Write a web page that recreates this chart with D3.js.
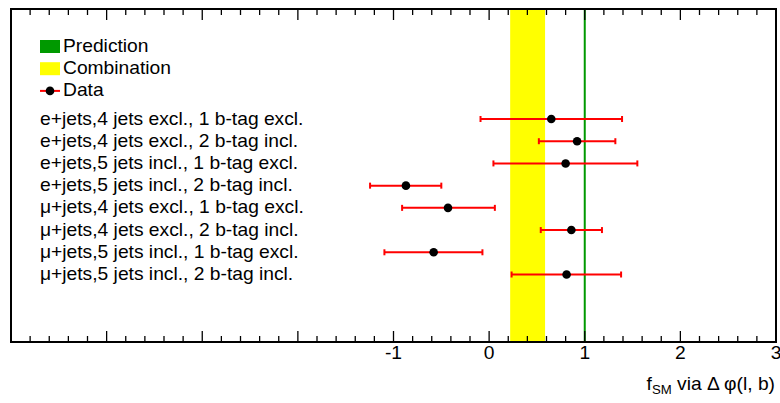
<!DOCTYPE html>
<html><head><meta charset="utf-8">
<script src="https://cdn.jsdelivr.net/npm/d3@7"></script>
<style>
html,body{margin:0;padding:0;background:#fff;}
svg text{font-family:"Liberation Sans",Arial,Helvetica,sans-serif;}
</style></head>
<body>
<svg id="c" width="780" height="403"></svg>
<script>
// ---- data ----
const categories = [
  "e+jets,4 jets excl., 1 b-tag excl.",
  "e+jets,4 jets excl., 2 b-tag incl.",
  "e+jets,5 jets incl., 1 b-tag excl.",
  "e+jets,5 jets incl., 2 b-tag incl.",
  "\u03bc+jets,4 jets excl., 1 b-tag excl.",
  "\u03bc+jets,4 jets excl., 2 b-tag incl.",
  "\u03bc+jets,5 jets incl., 1 b-tag excl.",
  "\u03bc+jets,5 jets incl., 2 b-tag incl."
];
const values   = [0.65, 0.92, 0.80, -0.87, -0.43, 0.86, -0.58, 0.81];
const errLow   = [0.74, 0.40, 0.755, 0.375, 0.48, 0.32, 0.515, 0.575];
const errHigh  = [0.74, 0.40, 0.75, 0.37, 0.49, 0.32, 0.51, 0.57];
const prediction = 1.0;
const combination = [0.22, 0.585];
const legendLabels = ["Prediction", "Combination", "Data"];
const xDomain = [-5, 3];
const tickLabels = [-1, 0, 1, 2, 3];

// ---- layout ----
const L = 11, R = 776, T = 9, B = 342;
const FS = 17.5, SX = 1.1;
const svg = d3.select("#c");
const x = d3.scaleLinear().domain(xDomain).range([L, R]);
const y = d3.scalePoint().domain(categories).range([119, 274.5]);
const ly = d3.scalePoint().domain(legendLabels).range([46.5, 90.9]);

// combination band
svg.append("rect").attr("x", x(combination[0])).attr("y", T)
  .attr("width", x(combination[1]) - x(combination[0])).attr("height", B - T)
  .attr("fill", "#ffff00");
// prediction line
svg.append("line").attr("x1", x(prediction)).attr("x2", x(prediction))
  .attr("y1", T).attr("y2", B).attr("stroke", "#009900").attr("stroke-width", 2);

// axes ticks (inward, bottom and top)
const majors = d3.range(xDomain[0], xDomain[1] + 0.001, 1);
const minors = d3.range(xDomain[0], xDomain[1] + 0.001, 0.2).filter(v => Math.abs(v - Math.round(v)) > 1e-6);
const tg = svg.append("g").attr("stroke", "#000").attr("stroke-width", 1.3);
[[B, -1], [T, 1]].forEach(([yy, dir]) => {
  tg.selectAll(null).data(majors).enter().append("line")
    .attr("x1", d => x(d)).attr("x2", d => x(d)).attr("y1", yy).attr("y2", yy + dir * 11);
  tg.selectAll(null).data(minors).enter().append("line")
    .attr("x1", d => x(d)).attr("x2", d => x(d)).attr("y1", yy).attr("y2", yy + dir * 6);
});

// frame
svg.append("rect").attr("x", L).attr("y", T).attr("width", R - L).attr("height", B - T)
  .attr("fill", "none").attr("stroke", "#000").attr("stroke-width", 2);

// tick labels
svg.selectAll(".tl").data(tickLabels).enter().append("text")
  .attr("transform", d => `translate(${x(d)},359) scale(${SX},1)`)
  .attr("text-anchor", "middle").attr("font-size", FS).attr("fill", "#000")
  .text(d => d);

// x label
const xl = svg.append("text").attr("transform", `translate(775,390) scale(${SX},1)`)
  .attr("text-anchor", "end").attr("font-size", FS).attr("fill", "#000");
xl.append("tspan").text("f");
xl.append("tspan").attr("font-size", 12).attr("dy", 4).text("SM");
xl.append("tspan").attr("dy", -4).text(" via \u0394 \u03c6(l, b)");

// data error bars
const dg = svg.append("g");
dg.selectAll(".eb").data(categories).enter().append("line")
  .attr("x1", (d, i) => x(values[i] - errLow[i])).attr("x2", (d, i) => x(values[i] + errHigh[i]))
  .attr("y1", d => y(d)).attr("y2", d => y(d))
  .attr("stroke", "#ff0000").attr("stroke-width", 2);
dg.selectAll(".cl").data(categories).enter().append("line")
  .attr("x1", (d, i) => x(values[i] - errLow[i])).attr("x2", (d, i) => x(values[i] - errLow[i]))
  .attr("y1", d => y(d) - 3).attr("y2", d => y(d) + 3)
  .attr("stroke", "#ff0000").attr("stroke-width", 2);
dg.selectAll(".cr").data(categories).enter().append("line")
  .attr("x1", (d, i) => x(values[i] + errHigh[i])).attr("x2", (d, i) => x(values[i] + errHigh[i]))
  .attr("y1", d => y(d) - 3).attr("y2", d => y(d) + 3)
  .attr("stroke", "#ff0000").attr("stroke-width", 2);
dg.selectAll(".pt").data(categories).enter().append("circle")
  .attr("cx", (d, i) => x(values[i])).attr("cy", d => y(d)).attr("r", 4.3).attr("fill", "#000");

// category labels
svg.selectAll(".cat").data(categories).enter().append("text")
  .attr("transform", d => `translate(40,${y(d) + 5.5}) scale(${SX},1)`)
  .attr("font-size", FS).attr("fill", "#000").text(d => d);

// legend
const lg = svg.append("g");
lg.append("rect").attr("x", 40).attr("y", ly("Prediction") - 6.5).attr("width", 20).attr("height", 13).attr("fill", "#009900");
lg.append("rect").attr("x", 40).attr("y", ly("Combination") - 6.5).attr("width", 20).attr("height", 13).attr("fill", "#ffff00");
lg.append("line").attr("x1", 40).attr("x2", 60).attr("y1", ly("Data")).attr("y2", ly("Data"))
  .attr("stroke", "#ff0000").attr("stroke-width", 2);
lg.append("circle").attr("cx", 50).attr("cy", ly("Data")).attr("r", 4.3).attr("fill", "#000");
lg.selectAll(".lt").data(legendLabels).enter().append("text")
  .attr("transform", d => `translate(63,${ly(d) + 5.5}) scale(${SX},1)`)
  .attr("font-size", FS).attr("fill", "#000").text(d => d);
</script>
</body></html>
